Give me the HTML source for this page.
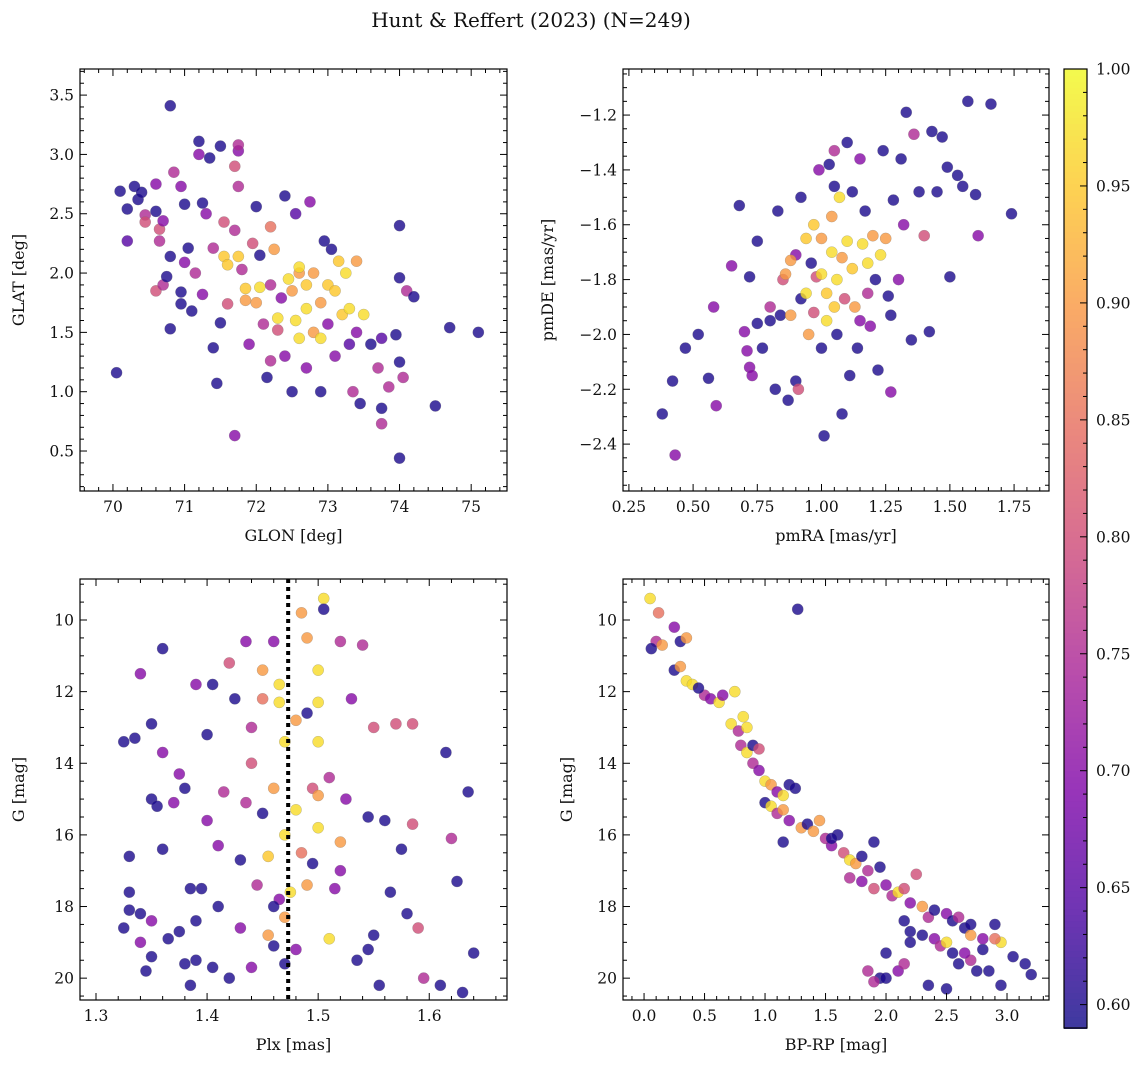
<!DOCTYPE html>
<html><head><meta charset="utf-8"><style>
body{margin:0;background:#fff;}
svg text{font-family:"DejaVu Serif","Liberation Serif",serif;fill:#111;}
</style></head><body>
<svg id="fig" width="1148" height="1068" xmlns="http://www.w3.org/2000/svg">
<text x="531" y="27" font-size="20" text-anchor="middle">Hunt &amp; Reffert (2023) (N=249)</text>
</svg>
<script>
// ---- data (top-left: GLON/GLAT/prob)
const tlGlon=[70.8,70.05,70.1,70.2,70.2,70.3,70.35,70.4,70.45,70.45,70.6,70.6,70.65,70.65,70.7,70.6,70.7,70.75,70.8,70.85,70.95,71.0,71.0,70.95,70.95,70.8,71.05,71.1,71.15,71.2,71.2,71.25,71.25,71.35,71.3,71.4,71.4,71.45,71.5,71.5,71.55,71.55,71.6,71.6,71.7,71.7,71.75,71.75,71.75,71.7,71.75,71.8,71.85,71.85,71.9,71.95,72.0,72.05,72.05,72.1,72.15,72.2,72.2,72.25,72.3,72.35,72.4,72.4,72.45,72.5,72.5,72.55,72.55,72.6,72.6,72.7,72.7,72.75,72.8,72.8,72.9,72.9,72.95,73.0,73.0,73.05,73.1,73.15,73.2,73.25,73.3,73.3,73.35,73.4,73.4,73.45,73.5,73.6,73.7,73.75,73.75,73.75,73.85,73.95,74.0,74.0,74.0,74.0,74.05,74.1,74.2,74.5,74.7,75.1,72.6,72.3,72.9,72.7,73.1,72.2,72.0];
const tlGlat=[3.41,1.16,2.69,2.27,2.54,2.73,2.62,2.68,2.49,2.43,2.75,2.52,2.37,2.27,2.44,1.85,1.9,1.97,2.14,2.85,2.73,2.58,2.09,1.84,1.74,1.53,2.21,1.68,2.0,3.0,3.11,2.59,1.82,2.97,2.5,2.21,1.37,1.07,1.58,3.07,2.43,2.14,2.07,1.74,2.36,2.9,3.03,3.08,2.73,0.63,2.14,2.03,1.87,1.77,1.4,2.25,2.56,2.15,1.88,1.57,1.12,1.26,2.39,2.2,1.52,1.79,2.65,1.3,1.95,1.0,1.85,2.5,1.6,2.0,1.45,1.7,1.2,2.6,2.0,1.5,1.0,1.75,2.27,1.57,1.9,2.2,1.3,2.1,1.65,2.0,1.7,1.4,1.0,1.5,2.1,0.9,1.65,1.4,1.2,1.45,0.86,0.73,1.04,1.48,1.25,1.96,2.4,0.44,1.12,1.85,1.8,0.88,1.54,1.5,2.05,1.62,1.45,1.9,1.85,1.9,1.75];
const tlProb=[.6,.6,.6,.65,.6,.6,.6,.6,.75,.8,.7,.6,.8,.75,.7,.8,.75,.6,.6,.75,.7,.6,.7,.6,.6,.6,.6,.6,.75,.7,.6,.6,.7,.6,.7,.75,.6,.6,.6,.6,.8,.95,.95,.8,.75,.8,.7,.75,.75,.7,.95,.75,.95,.9,.7,.8,.6,.6,.97,.75,.6,.75,.85,.9,.8,.7,.6,.7,.97,.6,.9,.65,.97,.9,.97,.97,.7,.7,.9,.9,.6,.9,.6,.7,.95,.6,.7,.95,.95,.97,.97,.65,.75,.7,.9,.6,.97,.6,.75,.65,.6,.75,.75,.6,.6,.6,.6,.6,.75,.75,.6,.6,.6,.6,.97,.97,.97,.95,.95,.75,.9];
// top-right: pmRA/pmDE/prob
const trPmra=[0.38,0.42,0.43,0.47,0.52,0.56,0.58,0.59,0.65,0.68,0.7,0.71,0.72,0.72,0.73,0.75,0.75,0.77,0.8,0.8,0.82,0.83,0.84,0.85,0.86,0.87,0.88,0.9,0.91,0.9,0.92,0.92,0.94,0.94,0.95,0.96,0.97,0.98,0.99,1.0,1.0,1.0,1.01,1.02,1.02,1.03,1.04,1.04,1.05,1.05,1.06,1.06,1.07,1.08,1.08,1.09,1.1,1.1,1.11,1.12,1.12,1.13,1.14,1.15,1.16,1.17,1.18,1.18,1.19,1.2,1.21,1.22,1.23,1.24,1.25,1.26,1.27,1.28,1.3,1.31,1.32,1.33,1.35,1.36,1.38,1.4,1.42,1.43,1.45,1.47,1.49,1.5,1.53,1.55,1.57,1.6,1.61,1.66,1.74,0.97,1.05,1.15,0.88,1.27];
const trPmde=[-2.29,-2.17,-2.44,-2.05,-2.0,-2.16,-1.9,-2.26,-1.75,-1.53,-1.99,-2.06,-1.79,-2.12,-2.15,-1.66,-1.96,-2.05,-1.95,-1.9,-2.2,-1.55,-1.93,-1.8,-1.78,-2.24,-1.93,-2.17,-2.2,-1.71,-1.87,-1.5,-1.65,-1.85,-2.0,-1.74,-1.6,-1.79,-1.4,-2.05,-1.78,-1.65,-2.37,-1.95,-1.85,-1.38,-1.57,-1.7,-1.33,-1.46,-2.0,-1.8,-1.5,-1.72,-2.29,-1.87,-1.3,-1.66,-2.15,-1.48,-1.76,-1.9,-2.05,-1.36,-1.67,-1.55,-1.85,-1.74,-1.97,-1.64,-1.8,-2.13,-1.71,-1.33,-1.65,-1.86,-2.21,-1.51,-1.8,-1.36,-1.6,-1.19,-2.02,-1.27,-1.48,-1.64,-1.99,-1.26,-1.48,-1.28,-1.39,-1.79,-1.42,-1.46,-1.15,-1.49,-1.64,-1.16,-1.56,-1.92,-1.9,-1.95,-1.73,-1.93];
const trProb=[.6,.6,.7,.6,.6,.6,.7,.7,.7,.6,.7,.7,.6,.7,.7,.6,.6,.6,.6,.75,.6,.6,.6,.8,.9,.6,.9,.6,.8,.7,.6,.6,.95,.97,.9,.6,.95,.8,.7,.6,.97,.9,.6,.97,.95,.6,.9,.97,.75,.6,.6,.97,.97,.9,.6,.8,.6,.97,.6,.6,.95,.9,.6,.7,.97,.6,.75,.97,.7,.9,.6,.6,.97,.6,.9,.6,.7,.6,.7,.6,.7,.6,.6,.75,.6,.8,.6,.6,.6,.6,.6,.6,.6,.6,.6,.6,.7,.6,.6,.8,.95,.7,.9,.6];
// bottom-left: Plx/G/prob
const blPlx=[1.325,1.325,1.33,1.33,1.33,1.335,1.34,1.34,1.34,1.345,1.35,1.35,1.35,1.35,1.355,1.36,1.36,1.36,1.365,1.37,1.375,1.375,1.38,1.38,1.385,1.385,1.39,1.39,1.395,1.4,1.4,1.405,1.405,1.41,1.41,1.415,1.42,1.42,1.425,1.43,1.43,1.435,1.44,1.44,1.445,1.45,1.45,1.45,1.455,1.455,1.46,1.46,1.465,1.465,1.465,1.47,1.47,1.47,1.47,1.475,1.48,1.48,1.48,1.485,1.485,1.49,1.49,1.49,1.495,1.5,1.5,1.5,1.5,1.505,1.505,1.51,1.51,1.515,1.52,1.52,1.525,1.53,1.535,1.54,1.545,1.55,1.55,1.555,1.56,1.565,1.57,1.575,1.58,1.585,1.585,1.59,1.595,1.61,1.615,1.62,1.625,1.63,1.635,1.64,1.46,1.435,1.52,1.495,1.545,1.5,1.44,1.46,1.39];
const blG=[18.6,13.4,18.1,17.6,16.6,13.3,18.2,19.0,11.5,19.8,12.9,15.0,18.4,19.4,15.2,16.4,13.7,10.8,18.9,15.1,18.7,14.3,19.6,14.7,17.5,20.2,18.4,11.8,17.5,15.6,13.2,19.7,11.8,16.3,18.0,14.8,20.0,11.2,12.2,16.7,18.6,10.6,13.0,14.0,17.4,12.2,11.4,15.4,18.8,16.6,14.7,10.6,11.8,12.3,17.8,16.0,18.3,13.4,19.6,17.6,12.8,15.3,19.2,9.8,16.5,10.5,12.6,17.4,14.7,11.4,12.3,13.4,15.8,9.4,9.7,18.9,14.4,17.5,16.2,10.6,15.0,12.2,19.5,10.7,15.5,13.0,18.8,20.2,15.6,17.6,12.9,16.4,18.2,12.9,15.7,18.6,20.0,20.2,13.7,16.1,17.3,20.4,14.8,19.3,18.0,15.1,17.0,16.8,19.2,14.9,19.7,19.1,19.5];
const blProb=[.6,.6,.6,.6,.6,.6,.6,.7,.7,.6,.6,.6,.7,.6,.6,.6,.7,.6,.6,.7,.6,.7,.6,.6,.6,.6,.6,.7,.6,.7,.6,.6,.6,.7,.6,.75,.6,.8,.6,.6,.7,.7,.75,.8,.75,.85,.9,.6,.9,.95,.9,.7,.97,.97,.7,.97,.9,.97,.6,.97,.9,.97,.7,.9,.85,.9,.6,.9,.8,.97,.97,.97,.97,.97,.6,.97,.75,.7,.9,.75,.7,.7,.6,.75,.6,.8,.6,.6,.6,.6,.8,.6,.6,.8,.8,.8,.75,.6,.6,.75,.6,.6,.6,.6,.6,.75,.7,.6,.6,.9,.7,.6,.6];
const plxRef=1.473;
// bottom-right: BP-RP/G/prob
const brCol=[0.05,0.12,0.1,0.15,0.06,0.25,0.3,0.35,0.25,0.3,0.35,0.4,0.5,0.55,0.62,0.65,0.75,0.82,0.72,0.78,0.85,0.8,0.85,0.9,0.9,0.95,1.0,1.05,1.1,1.15,1.2,1.25,1.0,1.05,1.1,1.15,1.2,1.3,1.35,1.4,1.45,1.15,1.27,1.5,1.55,1.6,1.65,1.7,1.75,1.8,1.85,1.9,1.95,1.7,1.8,1.9,2.0,2.05,2.1,2.15,2.2,2.25,2.3,2.35,2.4,2.5,2.55,2.6,2.65,2.7,2.15,2.2,2.3,2.4,2.45,2.5,2.55,2.6,2.7,2.75,2.8,2.85,2.9,2.95,2.95,3.05,3.15,3.2,1.85,1.95,2.0,2.1,2.15,2.35,2.5,2.9,2.8,2.7,1.9,2.0,2.2,0.45,0.95,1.55,2.65];
const brG=[9.4,9.8,10.6,10.7,10.8,10.2,10.6,10.5,11.4,11.3,11.7,11.8,12.1,12.2,12.3,12.1,12.0,12.7,12.9,13.1,13.0,13.5,13.7,13.5,14.0,14.2,14.5,14.6,14.8,14.9,14.6,14.7,15.1,15.2,15.4,15.3,15.6,15.8,15.7,15.9,15.6,16.2,9.7,16.1,16.3,16.0,16.5,16.7,16.8,16.6,17.0,16.2,16.9,17.2,17.3,17.5,17.4,17.7,17.6,17.5,17.9,17.1,18.0,18.3,18.1,18.2,18.4,18.3,18.6,18.8,18.4,18.7,18.8,18.9,19.1,19.0,19.3,19.6,19.5,19.8,19.2,19.8,18.5,19.0,20.2,19.4,19.6,19.9,19.8,20.0,20.0,19.8,19.6,20.2,20.3,18.9,18.9,18.5,20.1,19.3,19.0,11.9,13.6,16.1,19.3];
const brProb=[.97,.85,.75,.9,.6,.7,.6,.9,.6,.9,.97,.97,.75,.7,.97,.7,.97,.97,.97,.75,.97,.75,.97,.6,.75,.7,.97,.9,.7,.97,.6,.6,.6,.97,.75,.9,.7,.9,.6,.9,.9,.6,.6,.75,.7,.6,.8,.97,.9,.6,.75,.6,.6,.75,.7,.8,.7,.75,.97,.8,.7,.8,.9,.75,.6,.7,.6,.75,.6,.9,.6,.6,.6,.7,.75,.97,.6,.6,.75,.6,.6,.6,.6,.97,.6,.6,.6,.6,.75,.6,.6,.7,.75,.6,.6,.85,.7,.6,.75,.6,.6,.6,.8,.6,.7];
const cbTicks=[0.60,0.65,0.70,0.75,0.80,0.85,0.90,0.95,1.00];

const NS='http://www.w3.org/2000/svg';
const svg=document.getElementById('fig');
function mk(tag,attrs,parent){const e=document.createElementNS(NS,tag);for(const k in attrs)e.setAttribute(k,attrs[k]);(parent||svg).appendChild(e);return e;}
const stops=[[13,8,135],[76,2,161],[126,3,168],[168,34,150],[204,71,120],[229,107,93],[248,149,64],[253,197,39],[240,249,33]];
const VMIN=0.59,VMAX=1.0;
function rgbOf(v){let t=Math.max(0,Math.min(1,(v-VMIN)/(VMAX-VMIN)))*(stops.length-1);const i=Math.min(stops.length-2,Math.floor(t)),f=t-i;return stops[i].map((a,k)=>a+(stops[i+1][k]-a)*f);}
function cmap(v){const c=rgbOf(v).map(Math.round);return `rgb(${c[0]},${c[1]},${c[2]})`;}
function cmapBlend(v){const c=rgbOf(v).map(a=>Math.round(a*0.8+255*0.2));return `rgb(${c[0]},${c[1]},${c[2]})`;}
function fmt(v,d){let s=v.toFixed(d);return s.replace('-','\u2212');}

function panel(o){
  const g=mk('g',{});
  
  
  const X=v=>o.x0+(v-o.xmin)/(o.xmax-o.xmin)*(o.x1-o.x0);
  const Y=o.yinv?v=>o.y0+(v-o.ymin)/(o.ymax-o.ymin)*(o.y1-o.y0):v=>o.y1-(v-o.ymin)/(o.ymax-o.ymin)*(o.y1-o.y0);
  const clip='c'+o.name;const cp=mk('clipPath',{id:clip},g);mk('rect',{x:o.x0,y:o.y0,width:o.x1-o.x0,height:o.y1-o.y0},cp);
  const pg=mk('g',{'clip-path':`url(#${clip})`},g);
  for(let i=0;i<o.xs.length;i++){
    const c=mk('circle',{cx:X(o.xs[i]),cy:Y(o.ys[i]),r:5.6,fill:cmap(o.ps[i]),'fill-opacity':0.8,stroke:'#777','stroke-width':0.4,'stroke-opacity':0.6},pg);
    
    
  }
  if(o.vline!==undefined){const l=mk('line',{x1:X(o.vline),x2:X(o.vline),y1:o.y0,y2:o.y1,stroke:'#000','stroke-width':4,'stroke-dasharray':'4,4'},pg);
    }
  const fr=mk('rect',{x:o.x0,y:o.y0,width:o.x1-o.x0,height:o.y1-o.y0,fill:'none',stroke:'#000','stroke-width':1.2},g);
  
  const eps=1e-9;
  for(let v=Math.ceil(o.xmin/o.xmn-eps)*o.xmn;v<=o.xmax+eps;v+=o.xmn){
    const px=X(v);const maj=Math.abs(v/o.xmj-Math.round(v/o.xmj))<1e-6;const L=maj?7:4;
    mk('line',{x1:px,x2:px,y1:o.y1,y2:o.y1-L,stroke:'#000','stroke-width':1},g);
    mk('line',{x1:px,x2:px,y1:o.y0,y2:o.y0+L,stroke:'#000','stroke-width':1},g);
    if(maj){const t=mk('text',{x:px,y:o.y1+21,'font-size':15.5,'text-anchor':'middle'},g);t.textContent=fmt(Math.round(v/o.xmj)*o.xmj,o.xd);
      }
  }
  for(let v=Math.ceil(o.ymin/o.ymn-eps)*o.ymn;v<=o.ymax+eps;v+=o.ymn){
    const py=Y(v);const maj=Math.abs(v/o.ymj-Math.round(v/o.ymj))<1e-6;const L=maj?7:4;
    mk('line',{x1:o.x0,x2:o.x0+L,y1:py,y2:py,stroke:'#000','stroke-width':1},g);
    mk('line',{x1:o.x1,x2:o.x1-L,y1:py,y2:py,stroke:'#000','stroke-width':1},g);
    if(maj){const t=mk('text',{x:o.x0-6,y:py+5.5,'font-size':15.5,'text-anchor':'end'},g);t.textContent=fmt(Math.round(v/o.ymj)*o.ymj,o.yd);
      }
  }
  const xl=mk('text',{x:(o.x0+o.x1)/2,y:o.y1+50,'font-size':16,'text-anchor':'middle'},g);xl.textContent=o.xlabel;
  
  const yx=o.ylx,yy=(o.y0+o.y1)/2;
  const yl=mk('text',{x:yx,y:yy,'font-size':16,'text-anchor':'middle',transform:`rotate(-90 ${yx} ${yy})`},g);yl.textContent=o.ylabel;
  
}
panel({name:'glon-glat-panel',x0:80,x1:507,y0:69,y1:491,xmin:69.54,xmax:75.5,ymin:0.163,ymax:3.72,xmj:1,xmn:0.2,ymj:0.5,ymn:0.1,xd:0,yd:1,xs:tlGlon,ys:tlGlat,ps:tlProb,xlabel:'GLON [deg]',ylabel:'GLAT [deg]',ylx:24});
panel({name:'proper-motion-panel',x0:623,x1:1049,y0:69,y1:491,xmin:0.227,xmax:1.886,ymin:-2.571,ymax:-1.032,xmj:0.25,xmn:0.05,ymj:0.2,ymn:0.05,xd:2,yd:1,xs:trPmra,ys:trPmde,ps:trProb,xlabel:'pmRA [mas/yr]',ylabel:'pmDE [mas/yr]',ylx:553});
panel({name:'parallax-mag-panel',x0:80,x1:507,y0:579,y1:1000,xmin:1.2856,xmax:1.670,ymin:8.855,ymax:20.61,yinv:true,xmj:0.1,xmn:0.02,ymj:2,ymn:0.5,xd:1,yd:0,xs:blPlx,ys:blG,ps:blProb,xlabel:'Plx [mas]',ylabel:'G [mag]',ylx:24,vline:plxRef});
panel({name:'cmd-panel',x0:623,x1:1049,y0:579,y1:1000,xmin:-0.174,xmax:3.347,ymin:8.855,ymax:20.61,yinv:true,xmj:0.5,xmn:0.1,ymj:2,ymn:0.5,xd:1,yd:0,xs:brCol,ys:brG,ps:brProb,xlabel:'BP-RP [mag]',ylabel:'G [mag]',ylx:572});

// colorbar
const cb=mk('g',{});
const cx0=1064,cx1=1087,cy0=69,cy1=1028;
const CY=v=>cy1-(v-VMIN)/(VMAX-VMIN)*(cy1-cy0);
const N=160;
for(let i=0;i<N;i++){const v0=VMIN+(VMAX-VMIN)*i/N,v1=VMIN+(VMAX-VMIN)*(i+1)/N;
  mk('rect',{x:cx0,y:CY(v1),width:cx1-cx0,height:CY(v0)-CY(v1)+1,fill:cmapBlend((v0+v1)/2)},cb);}
mk('rect',{x:cx0,y:cy0,width:cx1-cx0,height:cy1-cy0,fill:'none',stroke:'#000','stroke-width':1.2},cb);
for(let k=60;k<=100;k++){const v=k/100;const py=CY(v);const maj=k%5===0;
  mk('line',{x1:cx1,x2:cx1-(maj?7:4),y1:py,y2:py,stroke:'#000','stroke-width':1},cb);}
cbTicks.forEach(v=>{const t=mk('text',{x:cx1+9,y:CY(v)+5.5,'font-size':15.5},cb);t.textContent=v.toFixed(2);
  });
</script>
</body></html>
